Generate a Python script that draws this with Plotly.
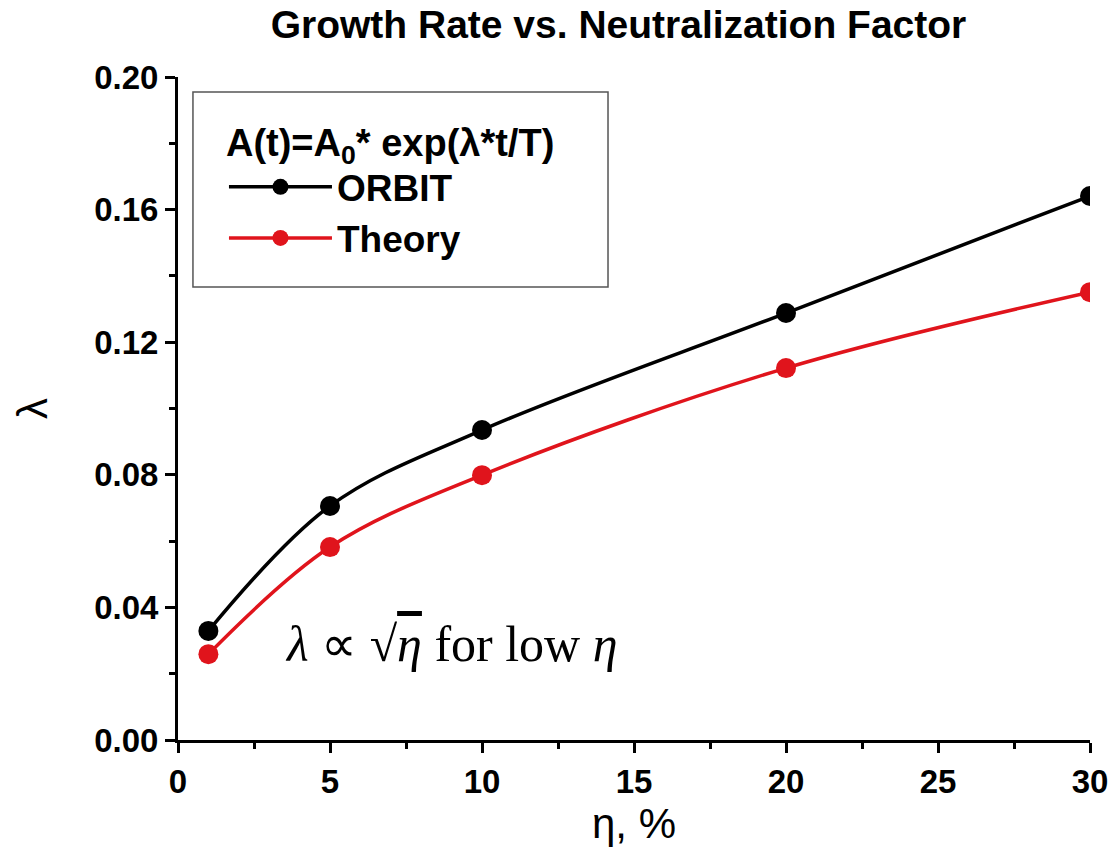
import plotly.graph_objects as go

eta = [1, 5, 10, 20, 30]
orbit = [0.0329, 0.0706, 0.0935, 0.1288, 0.1641]
theory = [0.0259, 0.0582, 0.0799, 0.1122, 0.1351]

SANS = "Liberation Sans, Arial, sans-serif"
SERIF = "Liberation Serif, Times New Roman, serif"
RED = "#e0141c"

fig = go.Figure()
fig.add_trace(go.Scatter(x=eta, y=orbit, name="<b>ORBIT</b>", mode="lines+markers",
                         line=dict(color="black", width=3.5, shape="spline", smoothing=1),
                         marker=dict(color="black", size=20)))
fig.add_trace(go.Scatter(x=eta, y=theory, name="<b>Theory</b>", mode="lines+markers",
                         line=dict(color=RED, width=3.5, shape="spline", smoothing=1),
                         marker=dict(color=RED, size=20)))

fig.add_annotation(x=9.0, y=0.0290, xref="x", yref="y", showarrow=False,
                   text="<i>λ</i> ∝ √<span style=\"text-decoration:overline\"><i>η</i></span> for low <i>η</i>",
                   font=dict(family=SERIF, size=50, color="black"))

axis_common = dict(showline=True, linecolor="black", linewidth=3, showgrid=False, zeroline=False,
                   ticks="outside", ticklen=10, tickwidth=3, tickcolor="black",
                   tickfont=dict(family=SANS, size=33, color="black", weight="bold"),
                   minor=dict(ticks="outside", ticklen=6, tickwidth=3, tickcolor="black"))

fig.update_xaxes(range=[0, 30], tickvals=[0, 5, 10, 15, 20, 25, 30],
                 minor_dtick=2.5, minor_tick0=0,
                 title=dict(text="η, %", font=dict(family=SANS, size=42, color="black"), standoff=5),
                 **axis_common)
fig.update_yaxes(range=[0, 0.20], tickvals=[0, 0.04, 0.08, 0.12, 0.16, 0.20], tickformat=".2f",
                 minor_dtick=0.02, minor_tick0=0,
                 title=dict(text="λ", font=dict(family=SANS, size=42, color="black"), standoff=34),
                 **axis_common)

# legend frame
fig.add_shape(type="rect", xref="paper", yref="paper",
              x0=0.0164, x1=0.4715, y0=0.6833, y1=0.9774,
              line=dict(color="#555", width=1.5), fillcolor="white", layer="below")

fig.update_layout(
    width=1110, height=853,
    margin=dict(l=178, r=20, t=77, b=113, autoexpand=False),
    paper_bgcolor="white", plot_bgcolor="white",
    title=dict(text="<b>Growth Rate vs. Neutralization Factor</b>", x=0.483, xref="paper", xanchor="center",
               y=0.971, yref="container", yanchor="middle",
               font=dict(family=SANS, size=39, color="black")),
    legend=dict(x=0.0504, y=0.955, xanchor="left", yanchor="top",
                borderwidth=0, bgcolor="rgba(0,0,0,0)",
                title=dict(text="<b>A(t)=A<sub>0</sub>* exp(λ*t/T)</b>",
                           font=dict(family=SANS, size=38, color="black")),
                font=dict(family=SANS, size=37, color="black"),
                itemwidth=103, tracegroupgap=0),
    showlegend=True,
)

fig.write_html("out.html")
